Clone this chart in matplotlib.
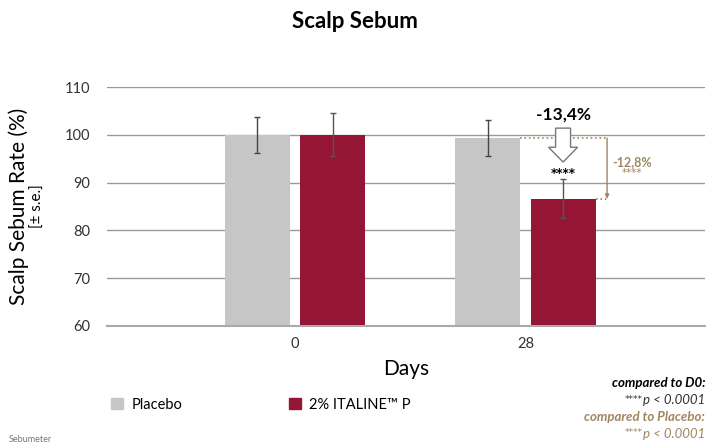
import numpy as np
import matplotlib.pyplot as plt
from matplotlib.patches import FancyArrow, Patch

plt.rcParams['font.family'] = ['Lato', 'DejaVu Sans']

# data
days = ['0', '28']
placebo = [100.0, 99.3]
placebo_se = [3.8, 3.75]
italine = [100.0, 86.6]
italine_se = [4.5, 4.1]
yticks = [60, 70, 80, 90, 100, 110]

grey = '#c6c6c6'
crimson = '#951634'
brown = '#9f8760'

fig = plt.figure(figsize=(7.1, 4.44), dpi=100)
ax = fig.add_axes([0.1507, 0.2658, 0.8423, 0.5382])

x = np.arange(len(days))
w = 0.282
off = 0.163
ax.bar(x - off, placebo, w, color=grey, label='Placebo', zorder=2)
ax.bar(x + off, italine, w, color=crimson, label='2% ITALINE™ P', zorder=2)
ax.errorbar(x - off, placebo, yerr=placebo_se, fmt='none', ecolor='#444444',
            elinewidth=1, capsize=2, capthick=1, zorder=3)
ax.errorbar(x + off, italine, yerr=italine_se, fmt='none', ecolor='#555555',
            elinewidth=1, capsize=2, capthick=1, zorder=3)

ax.set_ylim(60, 110)
ax.set_xlim(-0.816, 1.779)
ax.set_yticks(yticks)
ax.set_xticks(x)
ax.set_xticklabels(days)
ax.tick_params(length=0, labelsize=10.5, labelcolor='#333333')
ax.tick_params(axis='y', pad=12)
ax.tick_params(axis='x', pad=8)
ax.grid(axis='y', color='#9a9a9a', linewidth=1, zorder=0)
for s in ['top', 'right', 'left']:
    ax.spines[s].set_visible(False)
ax.spines['bottom'].set_color('#aaaaaa')
ax.spines['bottom'].set_linewidth(1.5)

ax.set_xlabel('Days', fontsize=15, labelpad=6)
fig.text(0.026, 0.535, 'Scalp Sebum Rate (%)', rotation=90, fontsize=15,
         ha='center', va='center')
fig.text(0.054, 0.535, '[± s.e.]', rotation=90, fontsize=11,
         ha='center', va='center')
fig.text(0.5, 0.952, 'Scalp Sebum', fontsize=16, fontweight='bold',
         ha='center', va='center')

# vs placebo bracket
xb = 1.354
ax.plot([1 - off + w / 2, xb], [placebo[1], placebo[1]], ls=':', color=brown, lw=1.2, zorder=3)
ax.plot([1 + off + w / 2, xb], [italine[1], italine[1]], ls=':', color=brown, lw=1.2, zorder=3)
ax.annotate('', xy=(xb, italine[1]), xytext=(xb, placebo[1]),
            arrowprops=dict(arrowstyle='-|>', color=brown, lw=1, mutation_scale=6,
                            shrinkA=0, shrinkB=0))
ax.text(1.462, 94.4, '-12,8%', color=brown, fontsize=9, fontweight='bold',
        ha='center', va='center')
ax.text(1.462, 92.0, '****', color=brown, fontsize=7.5, family='DejaVu Sans',
        ha='center', va='center')

# vs D0 arrow
xa = 1 + off
ax.add_patch(FancyArrow(xa, 101.4, 0, -7.1, width=0.065, head_width=0.126,
                        head_length=3.1, length_includes_head=True,
                        facecolor='white', edgecolor='#777777', lw=1, zorder=4))
ax.text(xa, 104.2, '-13,4%', fontsize=12.5, fontweight='bold', ha='center', va='center')
ax.text(xa, 92.0, '****', fontsize=8.5, fontweight='bold', family='DejaVu Sans',
        ha='center', va='center')

# legend
fig.legend(handles=[Patch(color=grey), Patch(color=crimson)],
           labels=['Placebo', '2% ITALINE™ P'], ncol=2, frameon=False,
           loc='center left', bbox_to_anchor=(0.138, 0.088), fontsize=10.5,
           handlelength=0.8, handleheight=0.8, handletextpad=0.6,
           columnspacing=7.3)

# significance notes
notes = [('compared to D0:', 'black', True, 0.137),
         ('p < 0.0001', '#333333', False, 0.099),
         ('compared to Placebo:', brown, True, 0.061),
         ('p < 0.0001', brown, False, 0.023)]
for txt, col, bold, yy in notes:
    t = fig.text(0.993, yy, txt, fontsize=9.5, fontweight='bold' if bold else 'normal',
                 style='italic', color=col, ha='right', va='center')
    if not bold:
        # superscript stars just before the p value
        fig.add_artist(plt.Annotation('****', xy=(0, 0.95), xycoords=t,
                                      ha='right', va='top', fontsize=6.5,
                                      color=col, family='DejaVu Sans'))
fig.text(0.012, 0.001, 'Sebumeter', fontsize=6.5, color='#777777', ha='left', va='bottom')

fig.savefig('out.png', dpi=100)
